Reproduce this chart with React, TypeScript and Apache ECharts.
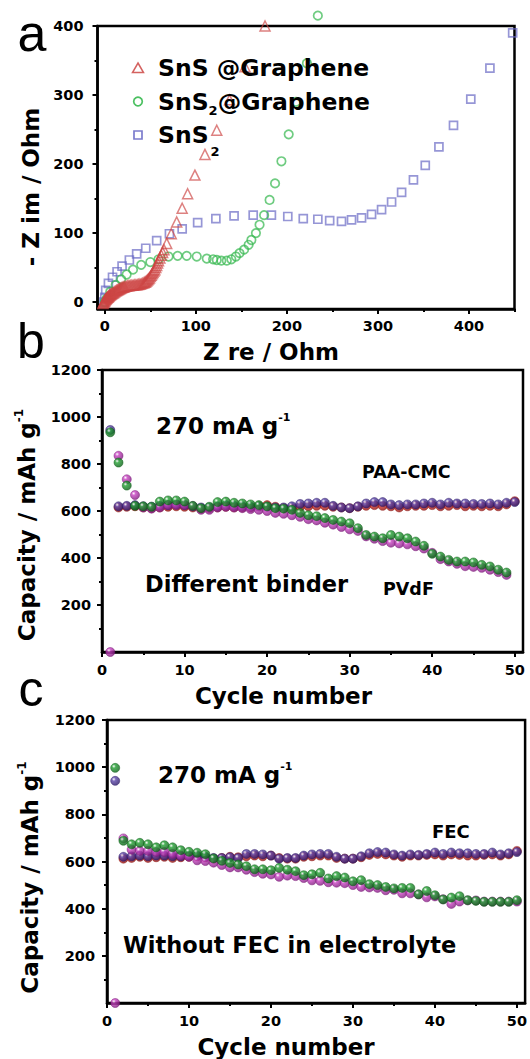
import React, { useEffect, useRef } from 'react';
import * as echarts from 'echarts';

const FONT = '"DejaVu Sans", "Liberation Sans", sans-serif';

// ---------- Panel a: Nyquist data [Z re, -Z im] ----------
const snsGraphene: number[][] = [
  [-2, -2], [-1.5, -1], [-1, 0], [-0.5, 1], [0, 2], [0.5, 3], [1, 4], [1.5, 4.8], [2, 5.5], [2.5, 6.3],
  [3, 7], [3.5, 7.5], [4, 8], [4.5, 8.8], [5, 9.5], [5.8, 10.2], [6.5, 11], [7.2, 11.8], [8, 12.5],
  [9, 13.3], [10, 14], [11, 15], [12, 16], [13, 16.8], [14, 17.5], [15, 18.3], [16, 19], [17, 19.8],
  [18, 20.5], [19, 21], [20, 21.5], [21, 22], [22, 22.5], [23.5, 23], [25, 23.5], [26.5, 23.8],
  [28, 24], [29.5, 24.3], [31, 24.5], [32.5, 24.8], [34, 25], [35.5, 25.3], [37, 25.5], [38.5, 26],
  [40, 26.5], [41.5, 27.2], [43, 28], [44, 28.8], [45, 29.5], [46, 30.7], [47, 32], [48, 33.5],
  [49, 35], [50, 37], [51, 39], [52, 41], [53, 43], [54, 45], [55, 47], [56, 50], [57, 53], [58, 56.5],
  [59, 60], [60.5, 64], [62, 68], [63.5, 72], [65, 76], [68, 85], [73, 99], [79, 116], [85, 136],
  [91, 157], [99, 184], [110, 214], [123, 249], [137, 293], [154, 341], [176, 400],
];
const sns2Graphene: number[][] = [
  [0, 0], [2, 5], [6, 15], [12, 25], [18, 33], [24, 40], [31, 47], [40, 54], [50, 58], [59, 62],
  [70, 66], [80, 67], [90, 67], [101, 66], [112, 63], [119, 62], [123, 61], [128, 60], [134, 60],
  [139, 62], [144, 66], [148, 71], [153, 76], [158, 83], [161, 90], [166, 100], [170, 112],
  [175, 126], [181, 148], [187, 172], [194, 204], [202, 243], [210, 290], [222, 346], [234, 415],
];
const sns2: number[][] = [
  [-1, 0], [0, 7], [1, 17], [4, 27], [8.5, 36], [13.5, 44], [19, 52], [27, 61], [35, 70], [45, 78],
  [57, 89], [71, 99], [85, 106], [102, 115], [122, 121], [142, 125], [163, 126], [183, 126],
  [201, 124], [218, 121], [234, 120], [247, 118], [260, 117], [271, 119], [282, 122], [293, 127],
  [304, 134], [315, 145], [326, 159], [339, 177], [352, 198], [367, 225], [383, 256], [402, 294],
  [423, 339], [448, 390],
];
const aXMajor = [0, 100, 200, 300, 400];
const aXMinor = [50, 150, 250, 350, 450];
const aYMajor = [0, 100, 200, 300, 400];
const aYMinor = [50, 150, 250, 350];

// ---------- Panels b & c: cycling data ----------
const cycles = [
  1, 2, 3, 4, 5, 6, 7, 8, 9, 10, 11, 12, 13, 14, 15, 16, 17, 18, 19, 20, 21, 22, 23, 24, 25,
  26, 27, 28, 29, 30, 31, 32, 33, 34, 35, 36, 37, 38, 39, 40, 41, 42, 43, 44, 45, 46, 47, 48, 49, 50,
];
const capMajor = [200, 400, 600, 800, 1000, 1200];
const capMinor = [100, 300, 500, 700, 900, 1100];
const cycMajor = [0, 10, 20, 30, 40, 50];
const cycMinor = [5, 15, 25, 35, 45];

// b: different binder
const bRed = [
  null, 615, 618, 620, 615, 612, 615, 618, 620, 618, 615, 610, 612, 615, 618, 615, 615, 615, 620, 625,
  618, 612, 612, 618, 620, 622, 622, 618, 615, 612, 618, 622, 625, 622, 620, 615, 620, 622, 622, 625,
  620, 622, 625, 620, 622, 620, 622, 620, 628, 642,
];
const bPurple = [
  945, 620, 622, 625, 620, 618, 622, 625, 628, 625, 620, 615, 615, 620, 625, 622, 620, 618, 620, 618,
  615, 615, 620, 630, 632, 635, 635, 622, 615, 612, 620, 632, 638, 638, 628, 625, 628, 628, 632, 635,
  628, 635, 632, 632, 630, 630, 632, 628, 635, 638,
];
const bMagenta = [
  0, 835, 735, 668, 615, 610, 615, 625, 625, 625, 620, 605, 605, 615, 618, 615, 612, 608, 605, 600,
  592, 588, 582, 575, 565, 560, 550, 542, 532, 522, 515, 492, 482, 472, 465, 462, 458, 450, 440, 422,
  395, 385, 375, 365, 362, 358, 350, 340, 328,
];
const bGreen = [
  935, 806, 708, 622, 620, 618, 640, 645, 645, 640, 622, 612, 618, 638, 640, 635, 632, 628, 625, 620,
  612, 610, 605, 592, 582, 578, 570, 562, 555, 548, 527, 498, 491, 484, 498, 491, 484, 470, 452, 418,
  406, 392, 385, 385, 381, 371, 364, 350, 338,
];

// c: with / without FEC
const cRed = [
  null, 612, 615, 620, 615, 618, 620, 615, 618, 620, 622, 618, 612, 615, 620, 618, 622, 625, 622, 625,
  615, 612, 612, 620, 622, 625, 625, 615, 612, 612, 618, 628, 632, 630, 625, 620, 625, 625, 628, 630,
  625, 630, 628, 625, 625, 628, 630, 625, 630, 645,
];
const cPurple = [
  942, 620, 622, 625, 622, 625, 625, 622, 622, 625, 625, 620, 615, 615, 618, 615, 632, 632, 630, 625,
  612, 615, 615, 625, 630, 632, 632, 620, 612, 612, 622, 635, 640, 638, 630, 625, 630, 628, 632, 638,
  632, 638, 635, 635, 632, 632, 638, 630, 635, 640,
];
const cMagenta = [
  0, 698, 650, 645, 645, 640, 640, 632, 625, 620, 605, 602, 595, 585, 575, 575, 565, 555, 548, 545,
  535, 540, 538, 530, 520, 518, 512, 510, 508, 500, 492, 490, 488, 478, 480, 465, 465, 460, 448, 452,
  440, 420, 430, 435, 435, 430, 430, 430, 430, 430,
];
const cGreen = [
  997, 688, 673, 679, 673, 660, 669, 660, 648, 641, 637, 631, 613, 603, 594, 587, 580, 567, 567, 563,
  573, 565, 559, 542, 546, 552, 528, 538, 532, 516, 521, 504, 500, 492, 486, 488, 488, 461, 475, 457,
  439, 447, 453, 436, 433, 429, 429, 429, 429, 436,
];

function pairs(vals: (number | null)[]) {
  const out: number[][] = [];
  vals.forEach((v, i) => {
    if (v !== null && v !== undefined) out.push([cycles[i], v]);
  });
  return out;
}

function ball(base: string, dark: string) {
  return {
    color: {
      type: 'radial', x: 0.35, y: 0.32, r: 0.75,
      colorStops: [
        { offset: 0, color: '#ffffff' },
        { offset: 0.28, color: base },
        { offset: 1, color: dark },
      ],
    },
    borderColor: dark,
    borderWidth: 0.6,
  };
}

const labelStyle = {
  fontFamily: FONT, fontWeight: 'bold', fontSize: 14.5, color: '#000',
  formatter: (v: number) => String(v),
};
const nameStyle = (pad: number[]) => ({
  fontFamily: FONT, fontWeight: 'bold', fontSize: 23, color: '#000', padding: pad,
  rich: {
    m: { fontFamily: FONT, fontWeight: 'bold', fontSize: 23, color: '#000', lineHeight: 28 },
    s: { fontFamily: FONT, fontWeight: 'bold', fontSize: 12, color: '#000', lineHeight: 14, verticalAlign: 'top' },
  },
});

function axisPair(
  dim: 'x' | 'y', grid: number, min: number, max: number, major: number[], minor: number[],
  name: string, nameGap: number, pad: number[], margin: number,
) {
  return [
    {
      type: 'value', gridIndex: grid, min, max, position: dim === 'x' ? 'bottom' : 'left',
      name, nameLocation: 'middle', nameGap, nameTextStyle: nameStyle(pad),
      axisLine: { show: true, onZero: false, lineStyle: { color: '#000', width: 2.5 } },
      axisTick: { show: true, inside: false, length: 5, lineStyle: { color: '#000', width: 2 }, customValues: major },
      axisLabel: { show: true, margin, customValues: major, ...labelStyle },
      splitLine: { show: false },
    },
    {
      type: 'value', gridIndex: grid, min, max, position: dim === 'x' ? 'bottom' : 'left',
      axisLine: { show: false, onZero: false },
      axisTick: { show: true, inside: false, length: 3, lineStyle: { color: '#000', width: 2 }, customValues: minor },
      axisLabel: { show: false },
      splitLine: { show: false },
    },
  ];
}

function txt(text: string, x: number, y: number, size: number, align = 'left', weight = 'bold', family = FONT) {
  return {
    type: 'text', x, y, z: 50,
    style: {
      text, fill: '#000', fontFamily: family, fontWeight: weight, fontSize: size,
      textAlign: align, textVerticalAlign: 'middle',
    },
  };
}

function richTxt(text: string, x: number, y: number, rich: any) {
  return {
    type: 'text', x, y, z: 50,
    style: { text, fill: '#000', textAlign: 'left', textVerticalAlign: 'middle', rich },
  };
}

const rateRich = {
  m: { fontFamily: FONT, fontWeight: 'bold', fontSize: 23, fill: '#000', lineHeight: 28 },
  s: { fontFamily: FONT, fontWeight: 'bold', fontSize: 11, fill: '#000', lineHeight: 14, verticalAlign: 'top' },
};
const legRich = {
  t: { fontFamily: FONT, fontWeight: 'bold', fontSize: 23.5, fill: '#000', lineHeight: 30 },
  s: { fontFamily: FONT, fontWeight: 'bold', fontSize: 13, fill: '#000', lineHeight: 16, verticalAlign: 'bottom' },
  d: { fontFamily: FONT, fontWeight: 'bold', fontSize: 13, fill: '#000', lineHeight: 16, verticalAlign: 'bottom', padding: [0, 0, 0, 2] },
};

const RED_A = 'rgba(205, 70, 68, 0.85)';
const GREEN_A = 'rgba(55, 185, 80, 0.9)';
const BLUE_A = 'rgba(100, 100, 195, 0.85)';
const LETTER_FONT = '"Liberation Sans", Arial, sans-serif';

export default function App() {
  const ref = useRef<HTMLDivElement>(null);

  useEffect(() => {
    if (!ref.current) return;
    const chart = echarts.init(ref.current, null, { renderer: 'svg' });
    const gridStyle = { show: true, borderColor: '#000', borderWidth: 2.5, backgroundColor: 'transparent', containLabel: false };

    const option: any = {
      animation: false,
      backgroundColor: '#ffffff',
      grid: [
        { left: 97.5, top: 26, width: 417, height: 283, ...gridStyle },
        { left: 102, top: 370, width: 421, height: 282, ...gridStyle },
        { left: 107, top: 720, width: 420, height: 283, ...gridStyle },
      ],
      xAxis: [
        ...axisPair('x', 0, -8, 450, aXMajor, aXMinor, 'Z re / Ohm', 31, [0, 70, 0, 0], 9),
        ...axisPair('x', 1, 0, 51, cycMajor, cycMinor, 'Cycle number', 32, [0, 58, 0, 0], 10),
        ...axisPair('x', 2, 0, 51, cycMajor, cycMinor, 'Cycle number', 32, [0, 60, 0, 0], 10),
      ],
      yAxis: [
        ...axisPair('y', 0, -10, 400, aYMajor, aYMinor, '- Z im / Ohm', 51, [0, 39, 0, 0], 14),
        ...axisPair('y', 1, 0, 1200, capMajor, capMinor, '{m|Capacity / mAh g}{s|-1}', 61, [0, 28, 0, 0], 11),
        ...axisPair('y', 2, 0, 1200, capMajor, capMinor, '{m|Capacity / mAh g}{s|-1}', 63, [0, 32, 0, 0], 12),
      ],
      series: [
        // panel a
        {
          name: 'SnS2', type: 'scatter', xAxisIndex: 0, yAxisIndex: 0, data: sns2, clip: false,
          symbol: 'rect', symbolSize: 8,
          itemStyle: { color: 'rgba(255,255,255,0)', borderColor: BLUE_A, borderWidth: 1.7 },
        },
        {
          name: 'SnS2@Graphene', type: 'scatter', xAxisIndex: 0, yAxisIndex: 0, data: sns2Graphene, clip: false,
          symbol: 'circle', symbolSize: 8.5,
          itemStyle: { color: 'rgba(255,255,255,0)', borderColor: GREEN_A, borderWidth: 1.7 },
        },
        {
          name: 'SnS @Graphene', type: 'scatter', xAxisIndex: 0, yAxisIndex: 0, data: snsGraphene, clip: false,
          symbol: 'triangle', symbolSize: 10,
          itemStyle: { color: 'rgba(255,255,255,0)', borderColor: RED_A, borderWidth: 1.5 },
        },
        // panel b
        { name: 'PAA-CMC discharge', type: 'scatter', xAxisIndex: 2, yAxisIndex: 2, data: pairs(bRed), clip: false, symbolSize: 9, itemStyle: ball('#d8332a', '#8e1410') },
        { name: 'PAA-CMC charge', type: 'scatter', xAxisIndex: 2, yAxisIndex: 2, data: pairs(bPurple), clip: false, symbolSize: 9, itemStyle: ball('#5a44a8', '#2a1766') },
        { name: 'PVdF discharge', type: 'scatter', xAxisIndex: 2, yAxisIndex: 2, data: pairs(bMagenta), clip: false, symbolSize: 9, itemStyle: ball('#c842c2', '#7c1a7a') },
        { name: 'PVdF charge', type: 'scatter', xAxisIndex: 2, yAxisIndex: 2, data: pairs(bGreen), clip: false, symbolSize: 9, itemStyle: ball('#22a032', '#0b5c16') },
        // panel c
        { name: 'FEC discharge', type: 'scatter', xAxisIndex: 4, yAxisIndex: 4, data: pairs(cRed), clip: false, symbolSize: 9, itemStyle: ball('#d8332a', '#8e1410') },
        { name: 'FEC charge', type: 'scatter', xAxisIndex: 4, yAxisIndex: 4, data: pairs(cPurple), clip: false, symbolSize: 9, itemStyle: ball('#5a44a8', '#2a1766') },
        { name: 'No FEC discharge', type: 'scatter', xAxisIndex: 4, yAxisIndex: 4, data: pairs(cMagenta), clip: false, symbolSize: 9, itemStyle: ball('#c842c2', '#7c1a7a') },
        { name: 'No FEC charge', type: 'scatter', xAxisIndex: 4, yAxisIndex: 4, data: pairs(cGreen), clip: false, symbolSize: 9, itemStyle: ball('#22a032', '#0b5c16') },
      ],
      graphic: [
        // panel letters
        txt('a', 32, 33, 52, 'center', 'normal', LETTER_FONT),
        txt('b', 31, 341, 50, 'center', 'normal', LETTER_FONT),
        txt('c', 31, 689, 50, 'center', 'normal', LETTER_FONT),
        // legend of panel a
        { type: 'polygon', z: 50, shape: { points: [[138, 63], [143.5, 72.5], [132.5, 72.5]] }, style: { fill: 'none', stroke: RED_A, lineWidth: 1.5 } },
        { type: 'circle', z: 50, shape: { cx: 138, cy: 101.5, r: 4.3 }, style: { fill: 'none', stroke: GREEN_A, lineWidth: 1.7 } },
        { type: 'rect', z: 50, shape: { x: 134, y: 131, width: 8, height: 8 }, style: { fill: 'none', stroke: BLUE_A, lineWidth: 1.7 } },
        richTxt('{t|SnS @Graphene}', 158, 68, legRich),
        richTxt('{t|SnS}{s|2}{t|@Graphene}', 158, 101.5, legRich),
        richTxt('{t|SnS}{d|2}', 158, 135, { ...legRich, d: { ...legRich.d, lineHeight: 12, padding: [0, 0, 0, 2] }, t: { ...legRich.t, lineHeight: 46 } }),
        // panel b
        richTxt('{m|270 mA g}{s|-1}', 156, 426, rateRich),
        txt('PAA-CMC', 362, 472, 17.5),
        txt('Different binder', 145, 584, 22.5),
        txt('PVdF', 383, 589, 17.5),
        // panel c
        richTxt('{m|270 mA g}{s|-1}', 158, 775, rateRich),
        txt('FEC', 432, 831, 18),
        txt('Without FEC in electrolyte', 123, 945, 22.5),
      ],
    };
    chart.setOption(option);
    return () => chart.dispose();
  }, []);

  return (
    <div
      ref={ref}
      style={{ position: 'absolute', left: 0, top: 0, width: 530, height: 1059, background: '#fff' }}
    />
  );
}
